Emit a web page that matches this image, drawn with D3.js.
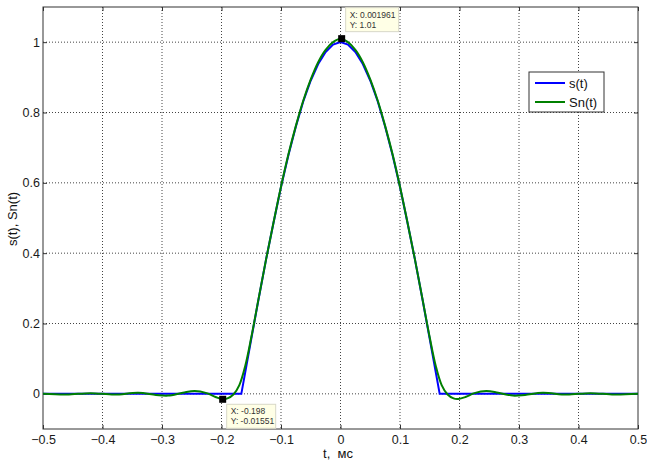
<!DOCTYPE html>
<html><head><meta charset="utf-8">
<script src="https://cdn.jsdelivr.net/npm/d3@7"></script>
<style>body{margin:0;background:#fff}svg{display:block}text{font-family:Arial,"Liberation Sans",sans-serif}</style>
</head><body><svg id="c" width="647" height="463"></svg>
<script>
// s(t): pulse
const sT = [-0.5,-0.1667,-0.1625,-0.15,-0.1375,-0.125,-0.1125,-0.1,-0.0875,-0.075,-0.0625,-0.05,-0.0375,-0.025,-0.0125,0,0.0125,0.025,0.0375,0.05,0.0625,0.075,0.0875,0.1,0.1125,0.125,0.1375,0.15,0.1625,0.1667,0.5];
const sY = [0,0,0.039,0.156,0.271,0.383,0.487,0.588,0.679,0.760,0.832,0.891,0.938,0.972,0.993,1.0,0.993,0.972,0.938,0.891,0.832,0.760,0.679,0.588,0.487,0.383,0.271,0.156,0.039,0,0];
// Sn(t): approximation with ripple
const snT = [-0.5,-0.46,-0.42,-0.38,-0.34,-0.31,-0.29,-0.265,-0.245,-0.225,-0.21,-0.198,-0.19,-0.18,-0.17,-0.16,-0.15,-0.1375,-0.125,-0.1125,-0.1,-0.0875,-0.075,-0.0625,-0.05,-0.0375,-0.025,-0.0125,0,0.0125,0.025,0.0375,0.05,0.0625,0.075,0.0875,0.1,0.1125,0.125,0.1375,0.15,0.16,0.17,0.18,0.19,0.198,0.21,0.225,0.245,0.265,0.29,0.31,0.34,0.38,0.42,0.46,0.5];
const snY = [0,-0.002,0.002,-0.002,0.003,-0.003,-0.005,0.003,0.008,0.002,-0.009,-0.0155,-0.013,-0.002,0.025,0.08,0.16,0.272,0.383,0.488,0.589,0.681,0.762,0.834,0.894,0.943,0.978,1.0,1.01,1.0,0.978,0.943,0.894,0.834,0.762,0.681,0.589,0.488,0.383,0.272,0.16,0.08,0.025,-0.002,-0.013,-0.0145,-0.009,0.002,0.008,0.003,-0.005,-0.003,0.003,-0.002,0.002,-0.002,0];
const xTicks = [-0.5,-0.4,-0.3,-0.2,-0.1,0,0.1,0.2,0.3,0.4,0.5];
const yTicks = [0,0.2,0.4,0.6,0.8,1];
const tips = [{x:0.001961,y:1.01,lx:"X: 0.001961",ly:"Y: 1.01",pos:"up"},{x:-0.198,y:-0.01551,lx:"X: -0.198",ly:"Y: -0.01551",pos:"down"}];
const seriesNames = ["s(t)","Sn(t)"];
const seriesColors = ["#0000ff","#008000"];

const svg = d3.select("#c");
const L=43,R=638,T=7,B=429;
const x = d3.scaleLinear().domain([-0.5,0.5]).range([L,R]);
const y = d3.scaleLinear().domain([-0.1,1.1]).range([B,T]);

// grid
const g = svg.append("g");
g.selectAll(".gx").data(xTicks.slice(1,-1)).enter().append("line")
 .attr("x1",d=>x(d)).attr("x2",d=>x(d)).attr("y1",T).attr("y2",B)
 .attr("stroke","#444").attr("stroke-width",1).attr("stroke-dasharray","1,2");
g.selectAll(".gy").data(yTicks).enter().append("line")
 .attr("y1",d=>y(d)).attr("y2",d=>y(d)).attr("x1",L).attr("x2",R)
 .attr("stroke","#444").attr("stroke-width",1).attr("stroke-dasharray","1,2");

// axes
const ax = d3.axisBottom(x).tickValues(xTicks).tickSize(-4).tickPadding(6).tickFormat(d3.format("~g"));
const ay = d3.axisLeft(y).tickValues(yTicks).tickSize(-4).tickPadding(3).tickFormat(d3.format("~g"));
svg.append("g").attr("transform",`translate(0,${B})`).call(ax);
svg.append("g").attr("transform",`translate(${L},0)`).call(ay);
svg.append("g").attr("transform",`translate(0,${T})`).call(d3.axisTop(x).tickValues(xTicks).tickSize(-4).tickFormat(""));
svg.append("g").attr("transform",`translate(${R},0)`).call(d3.axisRight(y).tickValues(yTicks).tickSize(-4).tickFormat(""));
svg.selectAll(".domain").remove();
svg.selectAll(".tick line").attr("stroke","#333");
svg.selectAll(".tick text").attr("font-size","12.5px").attr("fill","#1a1a1a").attr("font-family","Arial, 'Liberation Sans', sans-serif");
svg.append("rect").attr("x",L).attr("y",T).attr("width",R-L).attr("height",B-T).attr("fill","none").attr("stroke","#333").attr("stroke-width",1);

// lines
const sData = sT.map((t,i)=>[t,sY[i]]);
const snData = snT.map((t,i)=>[t,snY[i]]);
svg.append("path").datum(sData).attr("d",d3.line().x(d=>x(d[0])).y(d=>y(d[1])))
 .attr("fill","none").attr("stroke",seriesColors[0]).attr("stroke-width",2);
svg.append("path").datum(snData).attr("d",d3.line().x(d=>x(d[0])).y(d=>y(d[1])).curve(d3.curveCatmullRom.alpha(0.5)))
 .attr("fill","none").attr("stroke",seriesColors[1]).attr("stroke-width",2);

// datatips
tips.forEach(tp=>{
  const px=x(tp.x), py=y(tp.y);
  const bx = px+4, by = tp.pos==="up"? py-31 : py+5;
  const w = tp.pos==="up"?53:49;
  svg.append("rect").attr("x",bx).attr("y",by).attr("width",w).attr("height",24)
   .attr("fill","#ffffe6").attr("stroke","#d8d8c8").attr("stroke-width",1);
  svg.append("text").attr("x",bx+4).attr("y",by+10).attr("font-size","8.5px").attr("fill","#333").text(tp.lx);
  svg.append("text").attr("x",bx+4).attr("y",by+20).attr("font-size","8.5px").attr("fill","#333").text(tp.ly);
  svg.append("rect").attr("x",px-3.5).attr("y",py-3.5).attr("width",7).attr("height",7).attr("fill","#000");
});

// legend
const lg = svg.append("g");
lg.append("rect").attr("x",529).attr("y",72).attr("width",75).attr("height",40).attr("fill","#fff").attr("stroke","#333");
seriesNames.forEach((n,i)=>{
  const yy = 83+i*19;
  lg.append("line").attr("x1",535).attr("x2",565).attr("y1",yy).attr("y2",yy).attr("stroke",seriesColors[i]).attr("stroke-width",2);
  lg.append("text").attr("x",569).attr("y",yy+4.5).attr("font-size","13px").attr("fill","#111").text(n);
});

// labels
svg.append("text").attr("x",338).attr("y",458).attr("text-anchor","middle").attr("font-size","13px").attr("fill","#111").attr("xml:space","preserve").text("t,  мс");
svg.append("text").attr("transform","translate(17,219) rotate(-90)").attr("text-anchor","middle").attr("font-size","13px").attr("fill","#111").text("s(t), Sn(t)");
</script></body></html>
